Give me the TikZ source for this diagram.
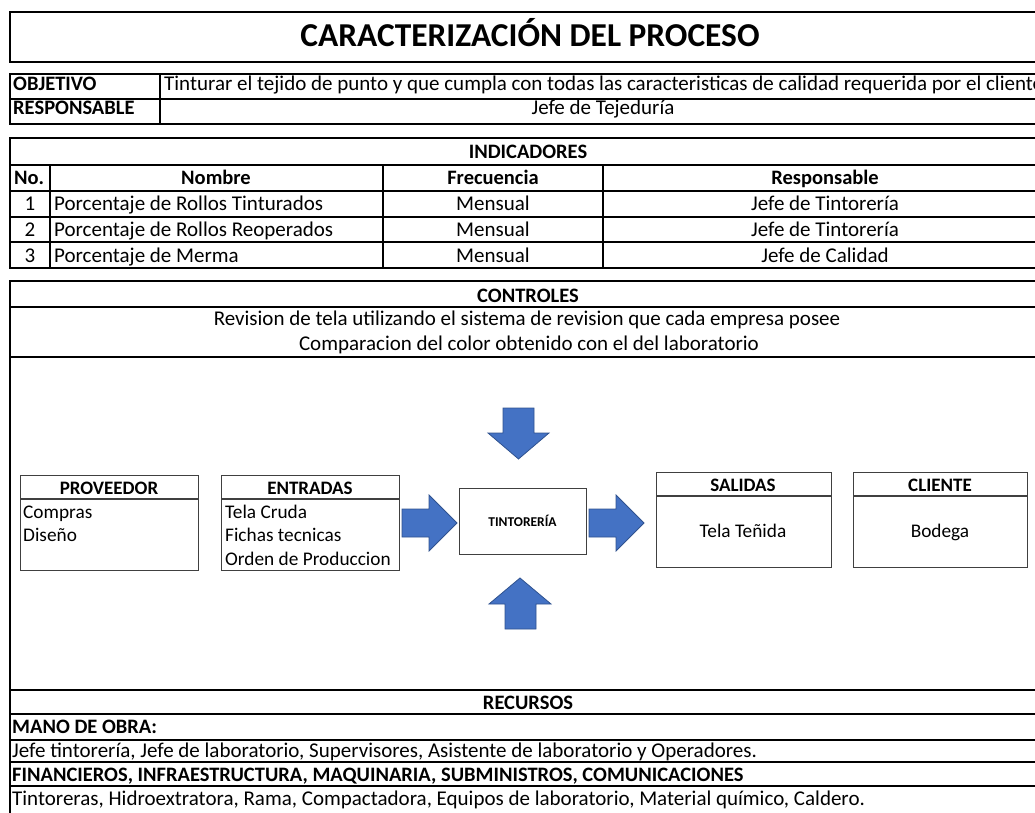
\documentclass[tikz,border=0pt]{standalone}
\usepackage{fontspec}
\setmainfont{Carlito}
\definecolor{arrowblue}{HTML}{4472C4}
\definecolor{arrowedge}{HTML}{2F528F}
\definecolor{boxedge}{HTML}{404040}
\begin{document}
\begin{tikzpicture}[x=1pt,y=-1pt,
  rule/.style={line width=2pt, black},
  thinrule/.style={line width=1.5pt, black},
  body/.style={font=\fontsize{21}{24}\selectfont, inner sep=0pt, anchor=base},
  head/.style={font=\fontsize{20.5}{24}\selectfont\bfseries, inner sep=0pt, anchor=base},
  dbox/.style={draw=boxedge, line width=1.3pt, inner sep=0pt, anchor=north west},
  dtext/.style={font=\fontsize{19.3}{23}\selectfont, inner sep=0pt, anchor=base},
  dhead/.style={font=\fontsize{19}{23}\selectfont\bfseries, inner sep=0pt, anchor=base},
  barrow/.style={fill=arrowblue, draw=arrowedge, line width=0.8pt}]
\useasboundingbox (0,0) rectangle (1035,813);
\begin{scope}
\clip (0,0) rectangle (1035,813);
% ---------- title ----------
\draw[rule] (1050,12) -- (10,12) -- (10,62) -- (1050,62);
\node[font=\fontsize{33.4}{36}\selectfont\bfseries, inner sep=0pt, anchor=base] (title) at (530,47) {CARACTERIZACIÓN DEL PROCESO};
% ---------- objetivo ----------
\draw[rule] (1050,74) -- (10,74) -- (10,124) -- (1050,124);
\draw[rule] (10,99) -- (1050,99);
\draw[thinrule] (160,74) -- (160,124);
\node[head, anchor=base west] (obj) at (13,90.5) {OBJETIVO};
\node[body, anchor=base west] (objt) at (164,90.5) {Tinturar el tejido de punto y que cumpla con todas las caracteristicas de calidad requerida por el cliente};
\node[head, anchor=base west] (resp) at (13,115) {RESPONSABLE};
\node[body] (respt) at (603,115) {Jefe de Tejeduría};
% ---------- indicadores ----------
\draw[rule] (1050,138) -- (10,138) -- (10,268) -- (1050,268);
\foreach \yy in {165,191,217,242} \draw[rule] (10,\yy) -- (1050,\yy);
\foreach \xx in {50,383,603} \draw[thinrule] (\xx,165) -- (\xx,268);
\node[head] (ind) at (528,158.5) {INDICADORES};
\node[head] (hno) at (29,185) {No.};
\node[head] (hnom) at (216,185) {Nombre};
\node[head] (hfre) at (493,185) {Frecuencia};
\node[head] (hres) at (825,185) {Responsable};
\node[body] (n1) at (30,210) {1};
\node[body] (n2) at (30,236) {2};
\node[body] (n3) at (30,262) {3};
\node[body, anchor=base west] (nm1) at (54,210) {Porcentaje de Rollos Tinturados};
\node[body, anchor=base west] (nm2) at (54,236) {Porcentaje de Rollos Reoperados};
\node[body, anchor=base west] (nm3) at (54,262) {Porcentaje de Merma};
\node[body] (f1) at (493,210) {Mensual};
\node[body] (f2) at (493,236) {Mensual};
\node[body] (f3) at (493,262) {Mensual};
\node[body] (r1) at (825,210) {Jefe de Tintorería};
\node[body] (r2) at (825,236) {Jefe de Tintorería};
\node[body] (r3) at (825,262) {Jefe de Calidad};
% ---------- controles / recursos frame ----------
\draw[rule] (1050,281) -- (10,281) -- (10,820);
\foreach \yy in {307,357,690,714,740,762,786} \draw[rule] (10,\yy) -- (1050,\yy);
\node[head] (ctl) at (528,302) {CONTROLES};
\node[body] (c1) at (527,325) {Revision de tela utilizando el sistema de revision que cada empresa posee};
\node[body] (c2) at (529,350) {Comparacion del color obtenido con el del laboratorio};
\node[head] (rec) at (528,709) {RECURSOS};
\node[head, anchor=base west] (mo) at (12,733) {MANO DE OBRA:};
\node[body, anchor=base west] (mot) at (12,757) {Jefe tintorería, Jefe de laboratorio, Supervisores, Asistente de laboratorio y Operadores.};
\node[head, anchor=base west] (fin) at (12,781) {FINANCIEROS, INFRAESTRUCTURA, MAQUINARIA, SUBMINISTROS, COMUNICACIONES};
\node[body, anchor=base west] (fint) at (12,805) {Tintoreras, Hidroextratora, Rama, Compactadora, Equipos de laboratorio, Material químico, Caldero.};
% ---------- process diagram ----------
\node[dbox, minimum width=178pt, minimum height=95pt] (prov) at (20,475) {};
\draw[draw=boxedge, line width=1.3pt] (20,499) -- (198,499);
\node[dhead] (provh) at (109,494) {PROVEEDOR};
\node[dtext, anchor=base west] (p1) at (23,518) {Compras};
\node[dtext, anchor=base west] (p2) at (23,541.5) {Diseño};

\node[dbox, minimum width=178pt, minimum height=95pt] (ent) at (221,475) {};
\draw[draw=boxedge, line width=1.3pt] (221,499) -- (399,499);
\node[dhead] (enth) at (310,494) {ENTRADAS};
\node[dtext, anchor=base west] (e1) at (225,518) {Tela Cruda};
\node[dtext, anchor=base west] (e2) at (225,541.5) {Fichas tecnicas};
\node[dtext, anchor=base west] (e3) at (225,565) {Orden de Produccion};

\node[dbox, minimum width=127pt, minimum height=66pt] (tin) at (459,488) {};
\node[font=\fontsize{13.5}{15}\selectfont\bfseries, inner sep=0pt, anchor=base] (tint) at (522.5,526) {TINTORERÍA};

\node[dbox, minimum width=175pt, minimum height=95pt] (sal) at (656,472) {};
\draw[draw=boxedge, line width=1.3pt] (656,496) -- (831,496);
\node[dhead] (salh) at (743,491) {SALIDAS};
\node[dtext] (salt) at (743,537) {Tela Teñida};

\node[dbox, minimum width=174pt, minimum height=95pt] (cli) at (853,472) {};
\draw[draw=boxedge, line width=1.3pt] (853,496) -- (1027,496);
\node[dhead] (clih) at (940,491) {CLIENTE};
\node[dtext] (clit) at (940,537) {Bodega};

% block arrows
\filldraw[barrow] (402,509) -- (429,509) -- (429,495) -- (457,523) -- (429,551) -- (429,537) -- (402,537) -- cycle;
\filldraw[barrow] (589,509) -- (616,509) -- (616,495) -- (644,523) -- (616,551) -- (616,537) -- (589,537) -- cycle;
\filldraw[barrow] (503,408) -- (534,408) -- (534,433) -- (549,433) -- (518.5,459) -- (488,433) -- (503,433) -- cycle;
\filldraw[barrow] (505,629) -- (536,629) -- (536,604) -- (551,604) -- (520,578) -- (489,604) -- (505,604) -- cycle;
\end{scope}
\end{tikzpicture}
\end{document}
